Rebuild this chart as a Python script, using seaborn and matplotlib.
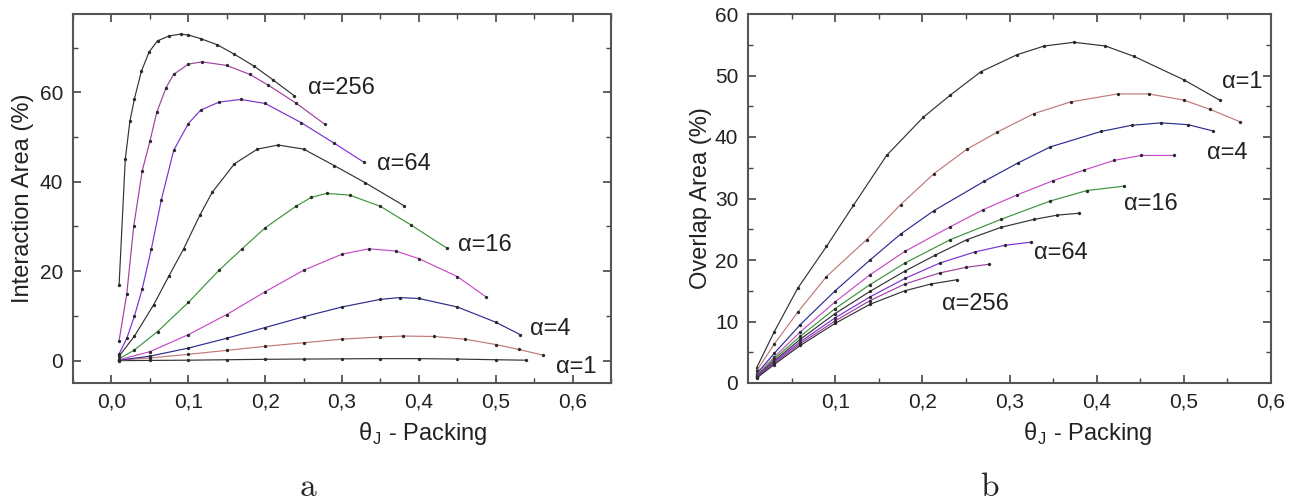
import matplotlib
matplotlib.use("Agg")
import matplotlib.pyplot as plt
import pandas as pd
import seaborn as sns
from matplotlib.ticker import MultipleLocator, FuncFormatter

alphas = [1, 2, 4, 8, 16, 32, 64, 128, 256]

# panel a: interaction area (%) vs packing
a1_theta = [0.01, 0.05, 0.10, 0.15, 0.20, 0.25, 0.30, 0.35, 0.40, 0.45, 0.50, 0.54]
a1_area = [0.0, 0.05, 0.1, 0.2, 0.3, 0.35, 0.4, 0.45, 0.45, 0.35, 0.2, 0.1]
a2_theta = [0.01, 0.05, 0.10, 0.15, 0.20, 0.25, 0.30, 0.35, 0.38, 0.42, 0.46, 0.50, 0.53, 0.562]
a2_area = [0.1, 0.6, 1.4, 2.3, 3.2, 4.0, 4.8, 5.3, 5.5, 5.4, 4.8, 3.6, 2.5, 1.2]
a4_theta = [0.01, 0.05, 0.10, 0.15, 0.20, 0.25, 0.30, 0.35, 0.375, 0.40, 0.45, 0.50, 0.532]
a4_area = [0.1, 1.0, 2.8, 5.0, 7.4, 9.8, 12.0, 13.7, 14.1, 13.9, 12.0, 8.6, 5.8]
a8_theta = [0.01, 0.05, 0.10, 0.15, 0.20, 0.25, 0.30, 0.335, 0.37, 0.40, 0.45, 0.487]
a8_area = [0.2, 2.0, 5.8, 10.3, 15.4, 20.2, 23.8, 25.0, 24.5, 22.8, 18.8, 14.3]
a16_theta = [0.01, 0.03, 0.06, 0.10, 0.14, 0.17, 0.20, 0.24, 0.26, 0.28, 0.31, 0.35, 0.39, 0.436]
a16_area = [0.4, 2.4, 6.5, 13.0, 20.2, 25.0, 29.7, 34.5, 36.5, 37.4, 37.0, 34.5, 30.3, 25.2]
a32_theta = [0.01, 0.03, 0.055, 0.075, 0.094, 0.115, 0.131, 0.16, 0.19, 0.217, 0.25, 0.29, 0.33, 0.381]
a32_area = [1.0, 5.5, 12.5, 19.0, 25.0, 32.5, 37.6, 44.0, 47.3, 48.2, 47.3, 43.6, 39.8, 34.6]
a64_theta = [0.01, 0.02, 0.03, 0.04, 0.052, 0.065, 0.081, 0.10, 0.116, 0.14, 0.168, 0.20, 0.247, 0.29, 0.329]
a64_area = [1.5, 5.0, 10.0, 16.0, 25.0, 36.0, 47.0, 53.0, 56.0, 57.8, 58.4, 57.5, 53.2, 48.6, 44.3]
a128_theta = [0.01, 0.02, 0.029, 0.04, 0.05, 0.059, 0.071, 0.081, 0.10, 0.118, 0.15, 0.18, 0.204, 0.24, 0.278]
a128_area = [4.5, 15.0, 30.0, 42.4, 49.0, 55.5, 61.0, 64.0, 66.3, 66.8, 66.0, 64.0, 61.6, 57.6, 52.8]
a256_theta = [0.01, 0.018, 0.024, 0.03, 0.039, 0.049, 0.06, 0.075, 0.09, 0.10, 0.116, 0.138, 0.16, 0.186, 0.21, 0.238]
a256_area = [17.0, 45.0, 53.5, 58.6, 64.7, 69.0, 71.5, 72.6, 73.0, 72.8, 72.0, 70.6, 68.5, 65.8, 62.8, 59.2]

# panel b: overlap area (%) vs packing
b1_theta = [0.01, 0.03, 0.057, 0.09, 0.121, 0.159, 0.201, 0.232, 0.267, 0.309, 0.34, 0.374, 0.41, 0.443, 0.50, 0.541]
b1_area = [2.5, 8.3, 15.4, 22.2, 28.9, 37.0, 43.2, 46.8, 50.6, 53.4, 54.8, 55.4, 54.8, 53.1, 49.3, 46.0]
b2_theta = [0.01, 0.03, 0.057, 0.09, 0.136, 0.175, 0.213, 0.251, 0.286, 0.328, 0.37, 0.424, 0.46, 0.50, 0.53, 0.564]
b2_area = [2.0, 6.3, 11.5, 17.3, 23.3, 29.0, 34.0, 38.0, 40.8, 43.8, 45.7, 47.0, 47.0, 46.0, 44.5, 42.5]
b4_theta = [0.01, 0.03, 0.06, 0.10, 0.14, 0.175, 0.213, 0.271, 0.31, 0.347, 0.405, 0.44, 0.474, 0.505, 0.533]
b4_area = [1.5, 4.8, 9.5, 15.0, 20.0, 24.2, 28.0, 32.8, 35.8, 38.4, 40.9, 41.9, 42.3, 42.0, 41.0]
b8_theta = [0.01, 0.03, 0.06, 0.10, 0.14, 0.18, 0.232, 0.27, 0.309, 0.35, 0.385, 0.42, 0.451, 0.489]
b8_area = [1.3, 4.2, 8.3, 13.2, 17.6, 21.4, 25.4, 28.2, 30.6, 32.9, 34.6, 36.2, 37.0, 37.0]
b16_theta = [0.01, 0.03, 0.06, 0.10, 0.14, 0.18, 0.232, 0.29, 0.347, 0.389, 0.431]
b16_area = [1.2, 3.9, 7.6, 12.1, 16.0, 19.5, 23.3, 26.6, 29.6, 31.3, 32.0]
b32_theta = [0.01, 0.03, 0.06, 0.10, 0.14, 0.18, 0.215, 0.251, 0.29, 0.328, 0.355, 0.38]
b32_area = [1.1, 3.6, 7.1, 11.3, 14.9, 18.2, 20.8, 23.3, 25.3, 26.6, 27.3, 27.6]
b64_theta = [0.01, 0.03, 0.06, 0.10, 0.14, 0.18, 0.22, 0.26, 0.295, 0.325]
b64_area = [1.0, 3.4, 6.7, 10.6, 14.0, 17.0, 19.5, 21.3, 22.4, 22.9]
b128_theta = [0.01, 0.03, 0.06, 0.10, 0.14, 0.18, 0.22, 0.25, 0.276]
b128_area = [0.9, 3.2, 6.4, 10.1, 13.4, 16.1, 17.9, 18.8, 19.3]
b256_theta = [0.01, 0.03, 0.06, 0.10, 0.14, 0.18, 0.21, 0.24]
b256_area = [0.8, 3.0, 6.1, 9.7, 12.8, 15.0, 16.1, 16.8]

a_labels = [256, 64, 16, 4, 1]
b_labels = [1, 4, 16, 64, 256]

colors = {1: "#333333", 2: "#c07878", 4: "#2c2c90", 8: "#c84ac8", 16: "#3a953a",
          32: "#333333", 64: "#7c30d4", 128: "#a040a0", 256: "#333333"}


def to_frame(thetas, areas):
    rows = []
    for a, t, v in zip(alphas, thetas, areas):
        rows += [{"alpha": a, "theta": x, "area": y} for x, y in zip(t, v)]
    return pd.DataFrame(rows)


df_a = to_frame([a1_theta, a2_theta, a4_theta, a8_theta, a16_theta, a32_theta, a64_theta, a128_theta, a256_theta],
                [a1_area, a2_area, a4_area, a8_area, a16_area, a32_area, a64_area, a128_area, a256_area])
df_b = to_frame([b1_theta, b2_theta, b4_theta, b8_theta, b16_theta, b32_theta, b64_theta, b128_theta, b256_theta],
                [b1_area, b2_area, b4_area, b8_area, b16_area, b32_area, b64_area, b128_area, b256_area])

sns.set_style("ticks")
plt.rcParams["font.family"] = ["Liberation Sans", "DejaVu Sans"]
plt.rcParams["mathtext.fontset"] = "cm"

fig = plt.figure(figsize=(12.97, 5.01), dpi=100)
ax1 = fig.add_axes([73 / 1297, 118 / 501, 538 / 1297, 369 / 501])
ax2 = fig.add_axes([748 / 1297, 118 / 501, 523 / 1297, 369 / 501])

for ax, df in [(ax1, df_a), (ax2, df_b)]:
    sns.lineplot(data=df, x="theta", y="area", hue="alpha", palette=colors, units="alpha",
                 estimator=None, sort=False, marker="o", markersize=2.4, markeredgewidth=0,
                 markerfacecolor="#2a2a2a", linewidth=0.85, legend=False, ax=ax)

comma = FuncFormatter(lambda v, p: f"{v:.1f}".replace(".", ","))
comma_b = FuncFormatter(lambda v, p: "" if v < 0.05 else f"{v:.1f}".replace(".", ","))

ax1.set_xlim(-0.05, 0.65)
ax1.set_ylim(-5, 77.5)
ax1.xaxis.set_major_locator(MultipleLocator(0.1))
ax1.xaxis.set_minor_locator(MultipleLocator(0.05))
ax1.yaxis.set_major_locator(MultipleLocator(20))
ax1.yaxis.set_minor_locator(MultipleLocator(10))
ax1.xaxis.set_major_formatter(comma)

ax2.set_xlim(0, 0.6)
ax2.set_ylim(0, 60)
ax2.xaxis.set_major_locator(MultipleLocator(0.1))
ax2.xaxis.set_minor_locator(MultipleLocator(0.05))
ax2.yaxis.set_major_locator(MultipleLocator(10))
ax2.yaxis.set_minor_locator(MultipleLocator(5))
ax2.xaxis.set_major_formatter(comma_b)

for ax in (ax1, ax2):
    ax.tick_params(which="both", direction="in", top=True, right=True, color="#444444",
                   labelsize=15, labelcolor="#222222")
    ax.tick_params(which="major", length=6, width=1.2, pad=7)
    ax.tick_params(which="minor", length=3.5, width=1.0)
    for s in ax.spines.values():
        s.set_color("#555555")
        s.set_linewidth(1.5)
    ax.set_xlabel(r"θ$_\mathregular{J}$ - Packing", fontsize=17, color="#222222")
    ax.xaxis.set_label_coords(0.65, -0.1)

ax1.set_ylabel("Interaction Area (%)", fontsize=17, color="#222222")
ax1.yaxis.set_label_coords(-0.073, 0.5)
ax2.set_ylabel("Overlap Area (%)", fontsize=17, color="#222222")
ax2.yaxis.set_label_coords(-0.069, 0.5)

a_pos = [(0.256, 61.0), (0.345, 43.9), (0.451, 25.9), (0.544, 7.1), (0.579, -1.4)]
for a, (x, y) in zip(a_labels, a_pos):
    ax1.text(x, y, f"α={a}", fontsize=17, va="center", ha="left", color="#222222")
b_pos = [(0.544, 49.0), (0.527, 37.4), (0.431, 29.1), (0.328, 21.1), (0.223, 12.9)]
for a, (x, y) in zip(b_labels, b_pos):
    ax2.text(x, y, f"α={a}", fontsize=17, va="center", ha="left", color="#222222")

fig.text(308 / 1297, 1 - 488 / 501, r"$\mathrm{a}$", fontsize=24, ha="center", va="center")
fig.text(990 / 1297, 1 - 488 / 501, r"$\mathrm{b}$", fontsize=24, ha="center", va="center")

fig.savefig("out.png", dpi=100)
